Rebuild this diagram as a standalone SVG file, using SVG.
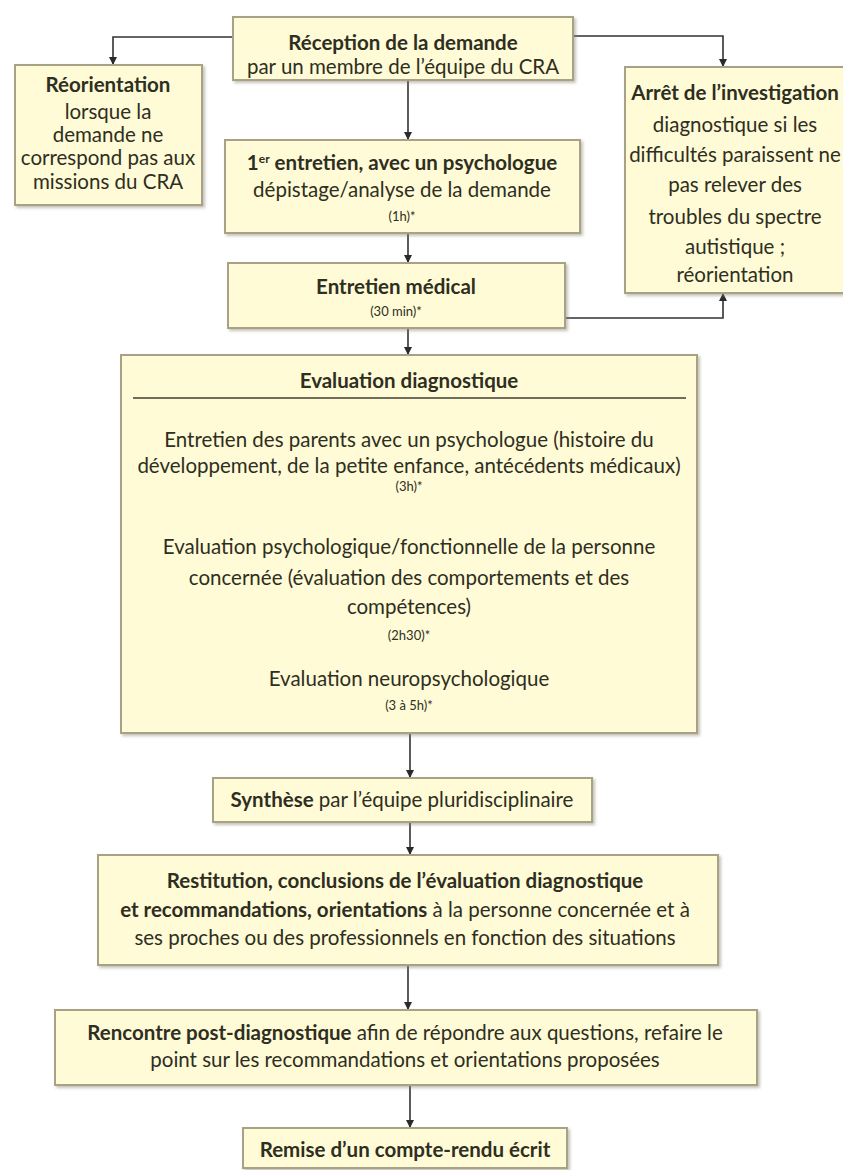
<svg xmlns="http://www.w3.org/2000/svg" width="843" height="1170" viewBox="0 0 843 1170">
<defs>
<marker id="ah" viewBox="0 0 10 10" refX="10" refY="5" markerWidth="8" markerHeight="8" markerUnits="userSpaceOnUse" orient="auto"><path d="M0,0 L10,5 L0,10 z" fill="#2a2a2a"/></marker>
<filter id="sh" x="-5%" y="-5%" width="110%" height="115%"><feDropShadow dx="2" dy="2" stdDeviation="1.5" flood-color="#8a8670" flood-opacity="0.5"/></filter>
</defs>
<style>
.box{fill:#fffbd6;stroke:#a7a286;stroke-width:2;filter:url(#sh)}
.t{font-family:Lato,"Liberation Sans",sans-serif;font-size:20.5px;fill:#2e2e22;text-anchor:middle}
.b{font-weight:bold}
.s{font-size:13px}
.c{fill:none;stroke:#333;stroke-width:1.6;marker-end:url(#ah)}
.div{stroke:#6f6d5a;stroke-width:2}
</style>
<rect width="843" height="1170" fill="#ffffff"/>
<g id="connectors">
<path class="c" d="M233,37 H113 V65"/>
<path class="c" d="M573,36 H723 V67"/>
<path class="c" d="M408,80 V140"/>
<path class="c" d="M408,233 V263"/>
<path class="c" d="M565,318 H723 V293"/>
<path class="c" d="M408,328 V355"/>
<path class="c" d="M410,733 V778"/>
<path class="c" d="M410,822 V855"/>
<path class="c" d="M408,965 V1010"/>
<path class="c" d="M410,1085 V1128"/>
</g>
<g id="reception">
<rect class="box" x="233" y="17" width="340" height="63"/>
<text class="t b" x="403" y="50">Réception de la demande</text>
<text class="t" x="403" y="74">par un membre de l’équipe du CRA</text>
</g>
<g id="reorientation">
<rect class="box" x="15" y="65" width="187" height="140"/>
<text class="t b" x="108" y="92">Réorientation</text>
<text class="t" x="108" y="119">lorsque la</text>
<text class="t" x="108" y="142">demande ne</text>
<text class="t" x="108" y="165">correspond pas aux</text>
<text class="t" x="108" y="189">missions du CRA</text>
</g>
<g id="arret">
<rect class="box" x="625" y="67" width="221" height="226"/>
<text class="t b" x="735" y="100">Arrêt de l’investigation</text>
<text class="t" x="735" y="132">diagnostique si les</text>
<text class="t" x="735" y="162">difficultés paraissent ne</text>
<text class="t" x="735" y="192">pas relever des</text>
<text class="t" x="735" y="224">troubles du spectre</text>
<text class="t" x="735" y="254">autistique ;</text>
<text class="t" x="735" y="282">réorientation</text>
</g>
<g id="entretien1">
<rect class="box" x="225" y="140" width="355" height="93"/>
<text class="t b" x="402" y="170">1<tspan font-size="12" dy="-7">er</tspan><tspan dy="7"> entretien, avec un psychologue</tspan></text>
<text class="t" x="402" y="197">dépistage/analyse de la demande</text>
<text class="t s" x="402" y="221">(1h)*</text>
</g>
<g id="medical">
<rect class="box" x="228" y="263" width="337" height="65"/>
<text class="t b" x="396" y="294">Entretien médical</text>
<text class="t s" x="396" y="316">(30 min)*</text>
</g>
<g id="evaluation">
<rect class="box" x="121" y="355" width="576" height="378"/>
<text class="t b" x="409" y="388" font-size="23">Evaluation diagnostique</text>
<line class="div" x1="133" y1="398" x2="686" y2="398"/>
<text class="t" x="409" y="447">Entretien des parents avec un psychologue (histoire du</text>
<text class="t" x="409" y="473">développement, de la petite enfance, antécédents médicaux)</text>
<text class="t s" x="409" y="491">(3h)*</text>
<text class="t" x="409" y="554">Evaluation psychologique/fonctionnelle de la personne</text>
<text class="t" x="409" y="585">concernée (évaluation des comportements et des</text>
<text class="t" x="409" y="614">compétences)</text>
<text class="t s" x="409" y="640">(2h30)*</text>
<text class="t" x="409" y="686">Evaluation neuropsychologique</text>
<text class="t s" x="409" y="710">(3 à 5h)*</text>
</g>
<g id="synthese">
<rect class="box" x="213" y="778" width="379" height="44"/>
<text class="t" x="402" y="807"><tspan class="b">Synthèse</tspan> par l’équipe pluridisciplinaire</text>
</g>
<g id="restitution">
<rect class="box" x="98" y="855" width="620" height="110"/>
<text class="t b" x="405" y="888">Restitution, conclusions de l’évaluation diagnostique</text>
<text class="t" x="405" y="917"><tspan class="b">et recommandations, orientations</tspan> à la personne concernée et à</text>
<text class="t" x="405" y="945">ses proches ou des professionnels en fonction des situations</text>
</g>
<g id="rencontre">
<rect class="box" x="55" y="1010" width="702" height="75"/>
<text class="t" x="405" y="1040"><tspan class="b">Rencontre post-diagnostique</tspan> afin de répondre aux questions, refaire le</text>
<text class="t" x="405" y="1067">point sur les recommandations et orientations proposées</text>
</g>
<g id="remise">
<rect class="box" x="243" y="1128" width="324" height="40"/>
<text class="t b" x="405" y="1157">Remise d’un compte-rendu écrit</text>
</g>
</svg>
